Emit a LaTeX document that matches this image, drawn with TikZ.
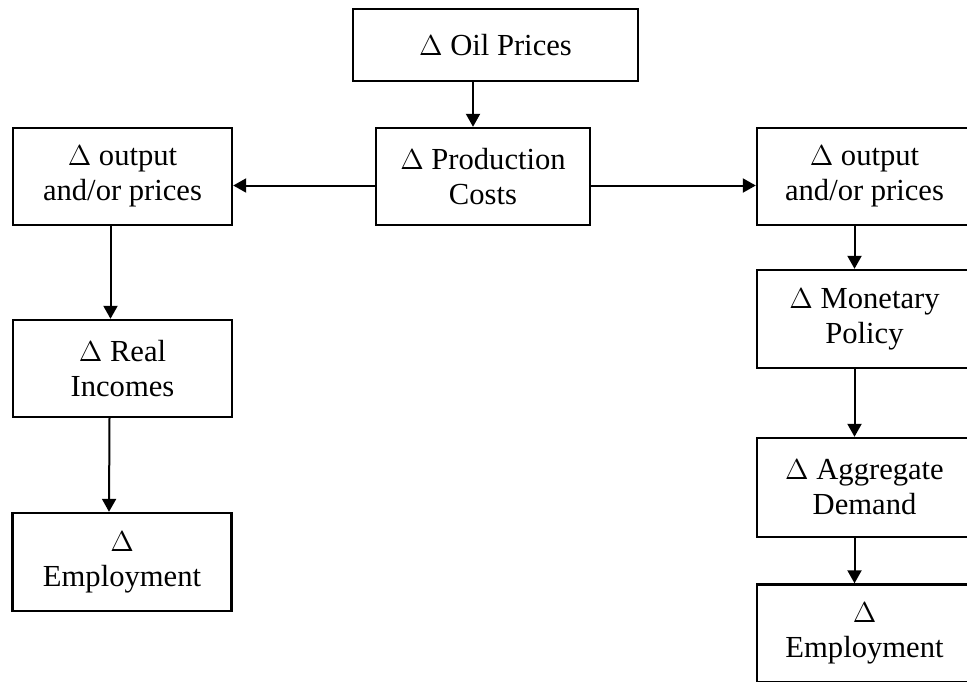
\documentclass[tikz,border=0pt]{standalone}
\usepackage{fontspec}
\setmainfont{Liberation Serif}
\usetikzlibrary{arrows.meta}
\tikzset{
	box/.style={draw, line width=1.2pt, align=center, inner sep=0pt, font=\fontsize{15.3}{17.5}\selectfont},
	arr/.style={line width=1pt, -{Triangle[length=6.5pt, width=7pt]}}
}
\begin{document}
\begin{tikzpicture}[x=0.5pt, y=-0.5pt]
	\useasboundingbox (0,0) rectangle (967,681);
	%
	%boxes middle
	\node[box, minimum width=142.5pt, minimum height=36pt] (oil) at (495.5,45) {$\Delta$ Oil Prices};
	\node[box, minimum width=107pt, minimum height=48.5pt] (prod) at (483,176.5) {$\Delta$ Production\\Costs};
	%boxes left
	\node[box, minimum width=109.5pt, minimum height=48.5pt] (outL) at (122.5,176.5) {$\Delta$ output\\and/or prices};
	\node[box, minimum width=109.5pt, minimum height=48.5pt] (realI) at (122.5,368.5) {$\Delta$ Real\\Incomes};
	\node[box, minimum width=109.5pt, minimum height=49pt] (empL) at (122,562) {$\Delta$\\Employment};
	%boxes right
	\node[box, minimum width=107.5pt, minimum height=48.5pt] (outR) at (864.5,176.5) {$\Delta$ output\\and/or prices};
	\node[box, minimum width=107.5pt, minimum height=49pt] (monP) at (864.5,319) {$\Delta$ Monetary\\Policy};
	\node[box, minimum width=107.5pt, minimum height=49.5pt] (aggD) at (864.5,487.5) {$\Delta$ Aggregate\\Demand};
	\node[box, minimum width=107.5pt, minimum height=49pt] (empR) at (864.5,633.5) {$\Delta$\\Employment};
	%
	%arrows
	\draw[arr] ([xshift=-5pt]oil.south -| prod.north) -- ([xshift=-5pt]prod.north);
	\draw[arr] ([yshift=-4.5pt]prod.west) -- ([yshift=-4.5pt]outL.east);
	\draw[arr] ([yshift=-4.5pt]prod.east) -- ([yshift=-4.5pt]outR.west);
	\draw[arr] ([xshift=-6pt]outL.south) -- ([xshift=-6pt]realI.north);
	\draw[arr] ([xshift=-6.5pt]realI.south) -- ([xshift=-6.5pt]empL.north);
	\draw[arr] ([xshift=-5pt]outR.south) -- ([xshift=-5pt]monP.north);
	\draw[arr] ([xshift=-5pt]monP.south) -- ([xshift=-5pt]aggD.north);
	\draw[arr] ([xshift=-5pt]aggD.south) -- ([xshift=-5pt]empR.north);
\end{tikzpicture}
\end{document}
